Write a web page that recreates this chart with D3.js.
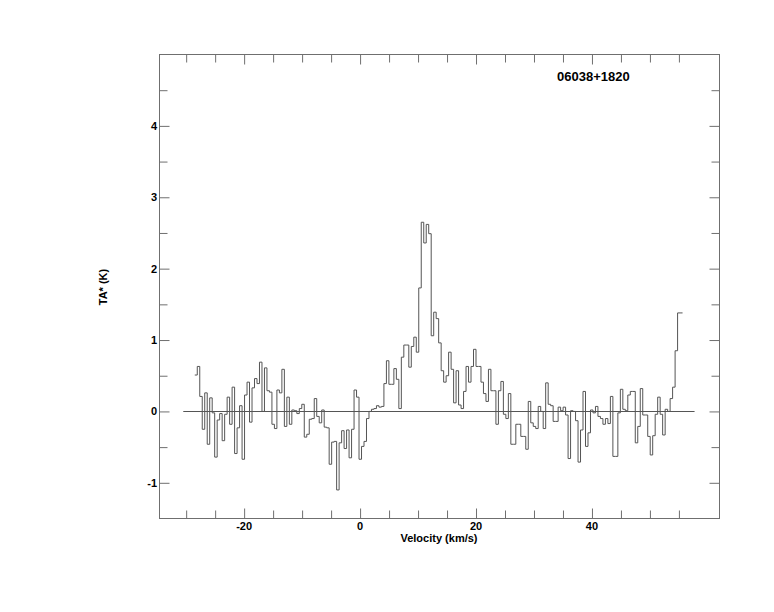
<!DOCTYPE html>
<html><head><meta charset="utf-8">
<script src="https://cdn.jsdelivr.net/npm/d3@7"></script>
<style>body{margin:0;background:#fff}svg{display:block}</style>
</head><body>
<svg id="c" width="774" height="612"></svg>
<script>
// ---- data ----
const TITLE = "06038+1820";
const X_LABEL = "Velocity (km/s)";
const Y_LABEL = "TA* (K)";
const X_DOMAIN = [-34.6, 62];
const Y_DOMAIN = [-1.5, 5];
const X_MAJOR = [-20, 0, 20, 40];
const X_MINOR = [-30, -25, -15, -10, -5, 5, 10, 15, 25, 30, 35, 45, 50, 55];
const Y_MAJOR = [-1, 0, 1, 2, 3, 4];
const Y_MINOR = [-0.5, 0.5, 1.5, 2.5, 3.5, 4.5];
const V_START = -28.30;   // centre of first channel (km/s)
const V_STEP = 0.4293;    // channel width (km/s)
const BASELINE = [-30.5, 57.7];
const TA = [
  0.51, 0.63, 0.21, -0.25, 0.26, -0.46, 0.19, -0.02, -0.64, -0.12, -0.03, -0.41, -0.04, 0.20, -0.18, 0.34, -0.59, -0.23, 0.08, -0.67,
  0.23, 0.41, -0.15, 0.33, 0.46, 0.39, 0.69, 0.00, 0.61, 0.29, 0.27, -0.18, -0.24, 0.30,
  0.26, 0.59, -0.21, 0.20, -0.18, 0.02, 0.01, -0.03, 0.04, 0.10, -0.36, -0.32, -0.11, -0.10, 0.18, -0.07, -0.16, 0.02, -0.22, -0.23,
  -0.74, -0.43, -0.42, -1.10, -0.44, -0.27, -0.52, -0.26, -0.65, -0.25, 0.30, 0.20, -0.67, -0.49, -0.42, -0.10,
  0.00, 0.03, 0.04, 0.08, 0.06, 0.07, 0.39, 0.71, 0.38, 0.38, 0.60, 0.45, 0.04, 0.76, 0.93, 0.93, 0.62, 0.91, 1.04, 0.83,
  1.73, 2.65, 2.36, 2.62, 2.49, 1.06, 1.39, 1.30, 0.96, 0.57, 0.41, 0.50, 0.83, 0.59, 0.12,
  0.57, 0.09, 0.04, 0.28, 0.63, 0.41, 0.63, 0.87, 0.63, 0.63, 0.41, 0.25, 0.14, 0.59, 0.29, 0.29, -0.18, 0.29, 0.42, -0.04,
  -0.10, 0.25, -0.46, -0.46, -0.18, -0.18, -0.35, -0.35, -0.53, 0.14, -0.16, -0.21, -0.24, 0.07, 0.00, -0.24, 0.40,
  0.10, 0.08, -0.14, -0.14, 0.06, 0.01, 0.06, -0.05, -0.66, 0.01, 0.00, -0.13, -0.71, -0.26, 0.28, -0.49, -0.30, 0.02, -0.02, 0.07,
  -0.07, -0.10, -0.18, -0.10, -0.17, 0.21, -0.63, -0.63, -0.02, 0.31, 0.03, 0.01, 0.23, 0.28, 0.28, -0.44, -0.21,
  0.32, -0.05, -0.05, -0.35, -0.61, -0.34, -0.04, 0.20, -0.04, -0.33, 0.03, 0.00, 0.18, 0.34, 0.85, 1.38, 1.38
];

// ---- layout ----
const L = 159.5, R = 719.5, T = 54.5, B = 518.5;
const MAJ = 10, MIN = 8;
const FONT = "'Liberation Sans', Arial, Helvetica, sans-serif";
const FRAME = "#6f6f6f";

const svg = d3.select("#c");
svg.append("rect").attr("width", 774).attr("height", 612).attr("fill", "#fff");

const x = d3.scaleLinear().domain(X_DOMAIN).range([L, R]);
const y = d3.scaleLinear().domain(Y_DOMAIN).range([B, T]);

// frame
svg.append("rect").attr("x", L).attr("y", T).attr("width", R - L).attr("height", B - T)
  .attr("fill", "none").attr("stroke", FRAME).attr("stroke-width", 1);

// ticks via axes (inward)
function xAxis(g, ticks, len, orient) {
  const ax = (orient === "bottom" ? d3.axisBottom(x) : d3.axisTop(x))
    .tickValues(ticks).tickSizeInner(-len).tickSizeOuter(0).tickFormat("");
  g.call(ax);
  g.select(".domain").remove();
  g.selectAll("line").attr("stroke", FRAME);
}
function yAxis(g, ticks, len, orient) {
  const ax = (orient === "left" ? d3.axisLeft(y) : d3.axisRight(y))
    .tickValues(ticks).tickSizeInner(-len).tickSizeOuter(0).tickFormat("");
  g.call(ax);
  g.select(".domain").remove();
  g.selectAll("line").attr("stroke", FRAME);
}
xAxis(svg.append("g").attr("transform", `translate(0,${B})`), X_MAJOR, MAJ, "bottom");
xAxis(svg.append("g").attr("transform", `translate(0,${B})`), X_MINOR, MIN, "bottom");
xAxis(svg.append("g").attr("transform", `translate(0,${T})`), X_MAJOR, MAJ, "top");
xAxis(svg.append("g").attr("transform", `translate(0,${T})`), X_MINOR, MIN, "top");
yAxis(svg.append("g").attr("transform", `translate(${L},0)`), Y_MAJOR, MAJ, "left");
yAxis(svg.append("g").attr("transform", `translate(${L},0)`), Y_MINOR, MIN, "left");
yAxis(svg.append("g").attr("transform", `translate(${R},0)`), Y_MAJOR, MAJ, "right");
yAxis(svg.append("g").attr("transform", `translate(${R},0)`), Y_MINOR, MIN, "right");

// tick labels
svg.append("g").selectAll("text").data(X_MAJOR).join("text")
  .attr("x", d => x(d)).attr("y", 530)
  .attr("text-anchor", "middle")
  .attr("font-family", FONT).attr("font-weight", "bold").attr("font-size", 11)
  .text(d => d);
svg.append("g").selectAll("text").data(Y_MAJOR).join("text")
  .attr("x", 157).attr("y", d => y(d) + 4)
  .attr("text-anchor", "end")
  .attr("font-family", FONT).attr("font-weight", "bold").attr("font-size", 11)
  .text(d => d);

// axis titles
svg.append("text").attr("x", 439).attr("y", 542).attr("text-anchor", "middle")
  .attr("font-family", FONT).attr("font-weight", "bold").attr("font-size", 11)
  .text(X_LABEL);
svg.append("text").attr("transform", "translate(107,287) rotate(-90)").attr("text-anchor", "middle")
  .attr("font-family", FONT).attr("font-weight", "bold").attr("font-size", 11)
  .text(Y_LABEL);
svg.append("text").attr("x", 557).attr("y", 81)
  .attr("font-family", FONT).attr("font-weight", "bold").attr("font-size", 13)
  .text(TITLE);

// zero baseline
svg.append("line")
  .attr("x1", x(BASELINE[0])).attr("x2", x(BASELINE[1]))
  .attr("y1", Math.round(y(0)) + 0.5).attr("y2", Math.round(y(0)) + 0.5)
  .attr("stroke", "#555").attr("stroke-width", 1);

// spectrum as histogram
const pts = TA.map((v, i) => [V_START + i * V_STEP - V_STEP / 2, v]);
pts.push([V_START + (TA.length - 1) * V_STEP + V_STEP / 2, TA[TA.length - 1]]);
const line = d3.line().x(d => x(d[0])).y(d => y(d[1])).curve(d3.curveStepAfter);
svg.append("path").attr("d", line(pts))
  .attr("fill", "none").attr("stroke", "#555").attr("stroke-width", 1);
</script>
</body></html>
